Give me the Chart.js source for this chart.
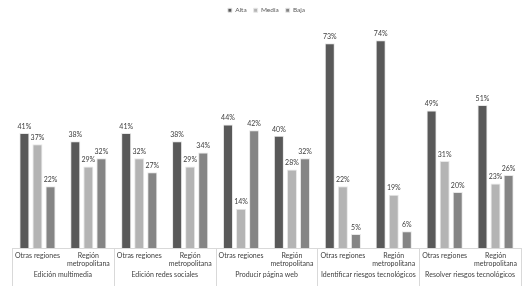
<!DOCTYPE html>
<html>
<head>
<meta charset="utf-8">
<script src="https://cdn.jsdelivr.net/npm/chart.js@4"></script>
<style>
    html, body { margin: 0; padding: 0; background: #ffffff; }
    #wrap { width: 532px; height: 286px; position: relative; }
</style>
</head>
<body>
<div id="wrap"><canvas id="chart"></canvas></div>
<script>
// Data
const regions = [['Otras regiones'], ['Región', 'metropolitana']];
const groups = ['Edición multimedia', 'Edición redes sociales', 'Producir página web',
    'Identificar riesgos tecnológicos', 'Resolver riesgos tecnológicos'];
const alta = [41, 38, 41, 38, 44, 40, 73, 74, 49, 51];
const media = [37, 29, 32, 29, 14, 28, 22, 19, 31, 23];
const baja = [22, 32, 27, 34, 42, 32, 5, 6, 20, 26];

const labels = [];
groups.forEach(() => regions.forEach(r => labels.push(r)));

const FONT = 'Lato, "Open Sans", sans-serif';

// value labels above each bar
const valueLabels = {
    id: 'valueLabels',
    afterDatasetsDraw(chart) {
        const ctx = chart.ctx;
        ctx.save();
        ctx.font = '7px ' + FONT;
        ctx.fillStyle = '#404040';
        ctx.textAlign = 'center';
        ctx.textBaseline = 'bottom';
        chart.data.datasets.forEach((ds, i) => {
            chart.getDatasetMeta(i).data.forEach((bar, j) => {
                ctx.fillText(ds.data[j] + '%', bar.x, bar.y - 3);
            });
        });
        ctx.restore();
    }
};

// outer group labels + separators
const groupAxis = {
    id: 'groupAxis',
    afterDraw(chart) {
        const ctx = chart.ctx;
        const x = chart.scales.x;
        const half = (x.getPixelForValue(1) - x.getPixelForValue(0)) / 2;
        const bottom = chart.chartArea.bottom;
        ctx.save();
        ctx.strokeStyle = '#d9d9d9';
        ctx.lineWidth = 1;
        ctx.font = '7px ' + FONT;
        ctx.fillStyle = '#404040';
        ctx.textAlign = 'center';
        ctx.textBaseline = 'middle';
        groups.forEach((g, i) => {
            const left = x.getPixelForValue(i * 2) - half;
            const right = x.getPixelForValue(i * 2 + 1) + half;
            ctx.beginPath();
            ctx.moveTo(Math.round(left) + 0.5, bottom);
            ctx.lineTo(Math.round(left) + 0.5, chart.height);
            if (i === groups.length - 1) {
                ctx.moveTo(Math.round(right) + 0.5, bottom);
                ctx.lineTo(Math.round(right) + 0.5, chart.height);
            }
            ctx.stroke();
            ctx.fillText(g, (left + right) / 2, bottom + 27);
        });
        ctx.restore();
    }
};

function barSet(label, data, color) {
    return {
        label: label,
        data: data,
        backgroundColor: color,
        borderColor: '#e8e8e8',
        borderWidth: 1,
        barPercentage: 0.77,
        categoryPercentage: 0.77
    };
}

new Chart(document.getElementById('chart'), {
    type: 'bar',
    data: {
        labels: labels,
        datasets: [
            barSet('Alta', alta, '#595959'),
            barSet('Media', media, '#b4b4b4'),
            barSet('Baja', baja, '#858585')
        ]
    },
    options: {
        animation: false,
        responsive: true,
        maintainAspectRatio: false,
        layout: { padding: { left: 12, right: 11, top: 0, bottom: 12 } },
        plugins: {
            legend: {
                position: 'top',
                labels: {
                    font: { family: FONT, size: 6.5 },
                    color: '#595959',
                    boxWidth: 4,
                    boxHeight: 4,
                    padding: 7
                },
                onClick: null
            },
            tooltip: { enabled: false }
        },
        scales: {
            x: {
                grid: { display: false, drawTicks: false, tickLength: 0 },
                border: { color: '#d9d9d9' },
                afterFit(scale) { scale.height = 26; },
                ticks: {
                    font: { family: FONT, size: 7, lineHeight: 1.25 },
                    color: '#404040',
                    maxRotation: 0,
                    autoSkip: false,
                    padding: 3
                }
            },
            y: {
                display: false,
                min: 0,
                max: 80
            }
        }
    },
    plugins: [valueLabels, groupAxis]
});
</script>
</body>
</html>
